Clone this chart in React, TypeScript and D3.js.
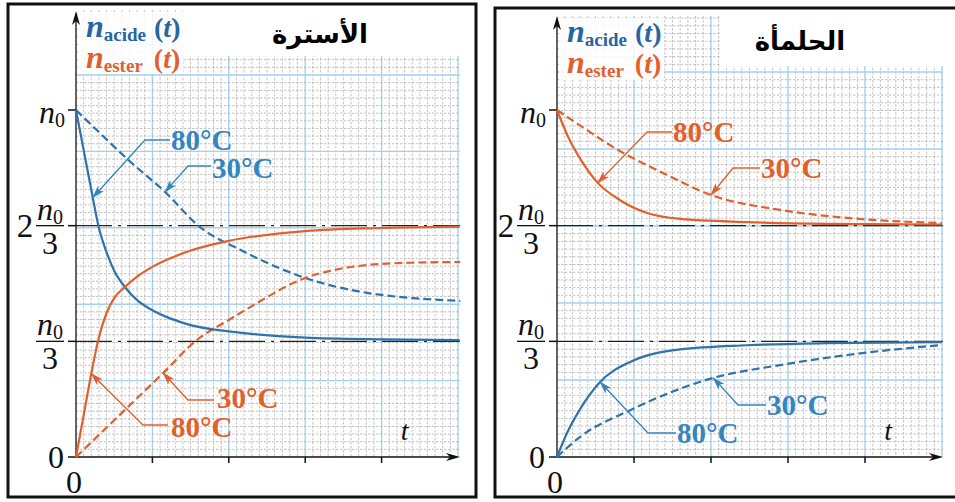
import React from 'react';
import * as d3 from 'd3';

type Pt = [number, number];

const BLUE = '#2e73ab';
const BLUE_TXT = '#3585c0';
const BLUE_DARK = '#2766a0';
const ORANGE = '#e2602c';
const SERIF = { fontFamily: 'Liberation Serif' };
const ARABIC = { fontFamily: 'DejaVu Sans' };

// t in major-tick units, n in units of n0
const timeTicks = [0, 1, 2, 3, 4, 5];
const levels = [1, 2 / 3, 1 / 3, 0];
const refLevels = [2 / 3, 1 / 3];

// estérification (left panel)
const estAcid80: Pt[] = [[0, 1], [0.1, 0.885], [0.2, 0.77], [0.3, 0.66], [0.4, 0.59], [0.5, 0.537], [0.64, 0.49], [0.8, 0.452], [1, 0.423], [1.25, 0.398], [1.5, 0.38], [2, 0.362], [3, 0.344], [4, 0.339], [5.02, 0.337]];
const estEster80: Pt[] = [[0, 0], [0.1, 0.12], [0.2, 0.24], [0.3, 0.345], [0.4, 0.415], [0.5, 0.458], [0.64, 0.49], [0.8, 0.52], [1, 0.548], [1.25, 0.574], [1.5, 0.595], [2, 0.623], [3, 0.651], [4, 0.66], [5.02, 0.664]];
const estAcid30: Pt[] = [[0, 1], [0.31, 0.934], [0.7, 0.853], [1.165, 0.764], [1.62, 0.663], [2.15, 0.597], [2.6, 0.55], [3, 0.516], [3.81, 0.473], [4.4, 0.458], [5.03, 0.45]];
const estEster30: Pt[] = [[0, 0], [0.5, 0.106], [1.14, 0.242], [1.58, 0.337], [2, 0.395], [2.28, 0.432], [3, 0.516], [3.4, 0.54], [3.8, 0.553], [4.4, 0.56], [5.03, 0.562]];

// hydrolyse (right panel)
const hydEster80: Pt[] = [[0, 1], [0.15, 0.92], [0.3, 0.86], [0.53, 0.79], [0.82, 0.74], [1.17, 0.703], [1.6, 0.686], [2.47, 0.677], [3.5, 0.672], [5, 0.67]];
const hydAcid80: Pt[] = [[0, 0], [0.13, 0.069], [0.3, 0.138], [0.56, 0.216], [0.95, 0.274], [1.6, 0.31], [2.47, 0.322], [3.5, 0.328], [5, 0.331]];
const hydEster30: Pt[] = [[0, 1], [0.35, 0.948], [0.73, 0.893], [1.38, 0.818], [2, 0.755], [2.9, 0.712], [3.77, 0.689], [5, 0.674]];
const hydAcid30: Pt[] = [[0, 0], [0.3, 0.058], [0.95, 0.135], [2.03, 0.228], [2.9, 0.265], [3.77, 0.294], [5, 0.323]];

interface Curve { data: Pt[]; color: string; dashed?: boolean }
interface Note { text: string; color: string; on: Pt[]; t: number; elbow: Pt; end: Pt; tx: number; ty: number }
interface PanelCfg {
  frame: [number, number, number, number];
  x0: number; x1: number; y0: number; y1: number;
  gridTop: number; gridRight: number; arrowTop: number;
  title: string; titleX: number; titleY: number; titleBox: [number, number, number, number];
  legX: number; legY: number; legBox: [number, number, number, number];
  curves: Curve[]; notes: Note[];
}

function valueAt(data: Pt[], t: number) {
  const i = d3.bisector((d: Pt) => d[0]).right(data, t);
  const a = data[Math.max(0, i - 1)];
  const b = data[Math.min(data.length - 1, i)];
  if (a === b) return a[1];
  return a[1] + ((b[1] - a[1]) * (t - a[0])) / (b[0] - a[0]);
}

const panels: PanelCfg[] = [
  {
    frame: [8, 4, 476, 497], x0: 76, x1: 458, y0: 457, y1: 110,
    gridTop: 10, gridRight: 460, arrowTop: 10,
    title: 'الأسترة', titleX: 320, titleY: 43, titleBox: [183, 10, 460, 56],
    legX: 86, legY: 37, legBox: [78, 12, 183, 74],
    curves: [
      { data: estAcid30, color: BLUE, dashed: true },
      { data: estEster30, color: ORANGE, dashed: true },
      { data: estAcid80, color: BLUE },
      { data: estEster80, color: ORANGE },
    ],
    notes: [
      { text: '80°C', color: BLUE_TXT, on: estAcid80, t: 0.22, elbow: [145, 140], end: [170, 140], tx: 171, ty: 150 },
      { text: '30°C', color: BLUE_TXT, on: estAcid30, t: 1.165, elbow: [188, 166], end: [211, 166], tx: 212, ty: 178 },
      { text: '30°C', color: ORANGE, on: estEster30, t: 1.14, elbow: [188, 400], end: [214, 400], tx: 217, ty: 408 },
      { text: '80°C', color: ORANGE, on: estEster80, t: 0.2, elbow: [143, 425], end: [168, 425], tx: 171, ty: 437 },
    ],
  },
  {
    frame: [495, 8, 962, 497], x0: 557, x1: 942, y0: 457, y1: 110,
    gridTop: 16, gridRight: 943, arrowTop: 15,
    title: 'الحلمأة', titleX: 800, titleY: 50, titleBox: [720, 16, 943, 66],
    legX: 567, legY: 42, legBox: [559, 18, 664, 80],
    curves: [
      { data: hydEster30, color: ORANGE, dashed: true },
      { data: hydAcid30, color: BLUE, dashed: true },
      { data: hydEster80, color: ORANGE },
      { data: hydAcid80, color: BLUE },
    ],
    notes: [
      { text: '80°C', color: ORANGE, on: hydEster80, t: 0.53, elbow: [647, 132], end: [672, 132], tx: 673, ty: 142 },
      { text: '30°C', color: ORANGE, on: hydEster30, t: 2.0, elbow: [733, 168], end: [760, 168], tx: 761, ty: 178 },
      { text: '30°C', color: BLUE_TXT, on: hydAcid30, t: 2.03, elbow: [738, 405], end: [766, 405], tx: 767, ty: 415 },
      { text: '80°C', color: BLUE_TXT, on: hydAcid80, t: 0.56, elbow: [648, 433], end: [676, 433], tx: 677, ty: 443 },
    ],
  },
];

function N0({ x, y, anchor }: { x: number; y: number; anchor: 'end' | 'middle' }) {
  return (
    <text x={x} y={y} textAnchor={anchor} style={SERIF} fill="#111">
      <tspan fontStyle="italic" fontSize={32}>n</tspan>
      <tspan fontSize={20} dy={4}>0</tspan>
    </text>
  );
}

function Fraction({ x, y }: { x: number; y: number }) {
  return (
    <g>
      <N0 x={x} y={y - 6} anchor="middle" />
      <line x1={x - 14} x2={x + 14} y1={y} y2={y} stroke="#111" strokeWidth={1.3} />
      <text x={x} y={y + 28} textAnchor="middle" style={SERIF} fontSize={32} fill="#111">3</text>
    </g>
  );
}

function Legend({ x, y, label, color }: { x: number; y: number; label: string; color: string }) {
  return (
    <text x={x} y={y} style={SERIF} fontWeight="bold" fill={color}>
      <tspan fontStyle="italic" fontSize={32}>n</tspan>
      <tspan fontSize={19} dy={4}>{label}</tspan>
      <tspan fontSize={28} dy={-4} dx={label === 'acide' ? 8 : 11}>(</tspan>
      <tspan fontStyle="italic" fontSize={28}>t</tspan>
      <tspan fontSize={28}>)</tspan>
    </text>
  );
}

function Panel({ cfg }: { cfg: PanelCfg }) {
  const x = d3.scaleLinear().domain([0, 5]).range([cfg.x0, cfg.x1]);
  const y = d3.scaleLinear().domain([0, 1]).range([cfg.y0, cfg.y1]);
  const step = (cfg.x1 - cfg.x0) / 50;
  const line = d3.line<Pt>().x((d) => x(d[0])).y((d) => y(d[1])).curve(d3.curveMonotoneX);

  const vLines = d3.range(1, 51).map((k) => ({ px: cfg.x0 + k * step, major: k % 10 === 0 }));
  const hCount = Math.floor((cfg.y0 - cfg.gridTop) / step);
  const hLines = d3.range(1, hCount + 1).map((k) => ({ py: cfg.y0 - k * step, major: k % 10 === 0 }));
  const [fx0, fy0, fx1, fy1] = cfg.frame;

  return (
    <g>
      <rect x={fx0} y={fy0} width={fx1 - fx0} height={fy1 - fy0} fill="#fff" stroke="#111" strokeWidth={3} />
      {/* graph paper */}
      <g>
        {vLines.map((v, i) => (
          <line key={'v' + i} x1={v.px} x2={v.px} y1={cfg.gridTop} y2={cfg.y0}
            stroke={v.major ? '#a6d1ee' : '#ababab'} strokeWidth={v.major ? 1.4 : 0.7}
            strokeDasharray={v.major ? undefined : '2.5,1.5'} />
        ))}
        {hLines.map((h, i) => (
          <line key={'h' + i} x1={cfg.x0} x2={cfg.gridRight} y1={h.py} y2={h.py}
            stroke={h.major ? '#a6d1ee' : '#ababab'} strokeWidth={h.major ? 1.4 : 0.7}
            strokeDasharray={h.major ? undefined : '2.5,1.5'} />
        ))}
      </g>
      <rect x={cfg.titleBox[0]} y={cfg.titleBox[1]} width={cfg.titleBox[2] - cfg.titleBox[0]} height={cfg.titleBox[3] - cfg.titleBox[1]} fill="#fff" />
      <rect x={cfg.legBox[0]} y={cfg.legBox[1]} width={cfg.legBox[2] - cfg.legBox[0]} height={cfg.legBox[3] - cfg.legBox[1]} fill="#fff" opacity={0.85} />
      <text x={cfg.titleX} y={cfg.titleY} textAnchor="middle" style={ARABIC} fontWeight="bold" fontSize={26} fill="#000">{cfg.title}</text>
      <Legend x={cfg.legX} y={cfg.legY} label="acide" color={BLUE_DARK} />
      <Legend x={cfg.legX} y={cfg.legY + 31} label="ester" color={ORANGE} />

      {/* reference levels */}
      {refLevels.map((l, i) => (
        <line key={'r' + i} x1={cfg.x0} x2={cfg.gridRight} y1={y(l)} y2={y(l)} stroke="#222" strokeWidth={1.3} strokeDasharray="36,6,3,6" />
      ))}

      {/* axes */}
      <line x1={cfg.x0} x2={cfg.x0} y1={cfg.y0} y2={cfg.arrowTop + 4} stroke="#111" strokeWidth={1.3} markerEnd="url(#axis-head)" />
      <line x1={cfg.x0} x2={cfg.gridRight - 3} y1={cfg.y0} y2={cfg.y0} stroke="#111" strokeWidth={1.3} markerEnd="url(#axis-head)" />
      {timeTicks.slice(1, 5).map((t) => (
        <line key={'xt' + t} x1={x(t)} x2={x(t)} y1={cfg.y0} y2={cfg.y0 + 6} stroke="#111" strokeWidth={1.5} />
      ))}
      {levels.map((l) => (
        <line key={'yt' + l} x1={cfg.x0 - 8} x2={cfg.x0} y1={y(l)} y2={y(l)} stroke="#111" strokeWidth={1.5} />
      ))}

      {/* tick labels */}
      <N0 x={cfg.x0 - 11} y={y(1) + 13} anchor="end" />
      <text x={cfg.x0 - 51} y={y(2 / 3) + 11} textAnchor="middle" style={SERIF} fontSize={33} fill="#111">2</text>
      <Fraction x={cfg.x0 - 26} y={y(2 / 3)} />
      <Fraction x={cfg.x0 - 26} y={y(1 / 3)} />
      <text x={cfg.x0 - 20} y={y(0) + 11} textAnchor="middle" style={SERIF} fontSize={32} fill="#111">0</text>
      <text x={cfg.x0 - 2} y={cfg.y0 + 36} textAnchor="middle" style={SERIF} fontSize={32} fill="#111">0</text>
      <text x={x(4.3)} y={cfg.y0 - 17} textAnchor="middle" style={SERIF} fontStyle="italic" fontSize={28} fill="#111">t</text>

      {/* curves */}
      {cfg.curves.map((c, i) => (
        <path key={'c' + i} d={line(c.data) || ''} fill="none" stroke={c.color} strokeWidth={2.2}
          strokeDasharray={c.dashed ? '8,4' : undefined} />
      ))}

      {/* annotations */}
      {cfg.notes.map((n, i) => {
        const tip: Pt = [x(n.t), y(valueAt(n.on, n.t))];
        const mk = n.color === ORANGE ? 'head-o' : 'head-b';
        return (
          <g key={'n' + i}>
            <path d={`M${n.end[0]},${n.end[1]}L${n.elbow[0]},${n.elbow[1]}L${tip[0]},${tip[1]}`} fill="none"
              stroke={n.color} strokeWidth={1.3} markerEnd={`url(#${mk})`} />
            <text x={n.tx} y={n.ty} style={SERIF} fontWeight="bold" fontSize={29} fill={n.color}>{n.text}</text>
          </g>
        );
      })}
    </g>
  );
}

export default function App() {
  return (
    <svg width={955} height={502} style={{ position: 'absolute', left: 0, top: 0, background: '#fff' }}>
      <defs>
        <marker id="axis-head" viewBox="0 0 14 8" refX="11" refY="4" markerWidth="14" markerHeight="8" markerUnits="userSpaceOnUse" orient="auto">
          <path d="M0,0 L14,4 L0,8 L4,4 Z" fill="#111" />
        </marker>
        <marker id="head-b" viewBox="0 0 13 8" refX="12" refY="4" markerWidth="13" markerHeight="8" markerUnits="userSpaceOnUse" orient="auto">
          <path d="M0,0 L13,4 L0,8 L3,4 Z" fill={BLUE_TXT} />
        </marker>
        <marker id="head-o" viewBox="0 0 13 8" refX="12" refY="4" markerWidth="13" markerHeight="8" markerUnits="userSpaceOnUse" orient="auto">
          <path d="M0,0 L13,4 L0,8 L3,4 Z" fill={ORANGE} />
        </marker>
      </defs>
      <rect width={955} height={502} fill="#fff" />
      {panels.map((p, i) => (
        <Panel key={i} cfg={p} />
      ))}
    </svg>
  );
}
